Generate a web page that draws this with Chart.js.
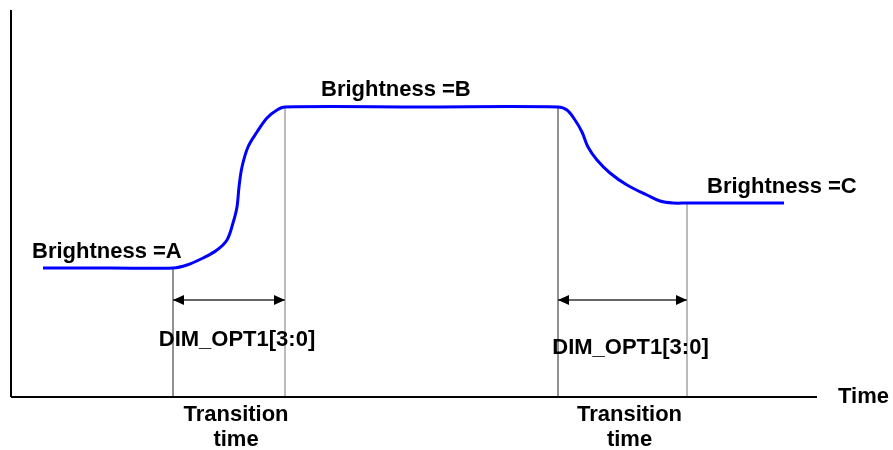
<!DOCTYPE html>
<html>
<head>
<meta charset="utf-8">
<script src="https://cdn.jsdelivr.net/npm/chart.js@4/dist/chart.umd.min.js"></script>
<style>
  body { margin: 0; background: #fff; }
  #wrap { width: 893px; height: 450px; }
</style>
</head>
<body>
<div id="wrap"><canvas id="chart" width="893" height="450"></canvas></div>
<script>
// brightness curve (time / brightness in arbitrary units, origin at axes corner)
const timeValues = [32, 100, 162, 176, 192, 206, 216, 222, 226, 228, 231, 237, 246, 256, 266, 274,
                    410, 547, 556, 564, 571, 577, 586, 599, 616, 636, 649, 662, 676, 725, 773];
const brightnessValues = [129, 129, 129, 132, 139, 147, 157, 174, 190, 210, 230, 250, 265, 279, 287, 290,
                          290, 290, 287, 277, 265, 250, 237, 224, 212, 202, 196, 194, 194, 194, 194];

// brightness levels and transition edges
const levelNames = ['Brightness =A', 'Brightness =B', 'Brightness =C'];
const levelValues = [129, 290, 194];
const transitionStart = [162, 547];
const transitionEnd = [274, 676];
const arrowLevel = 97;
const optionLabel = 'DIM_OPT1[3:0]';
const transitionLabel = ['Transition', 'time'];
const axisEnd = { time: 806, brightness: 387 };

const font = 'bold 22px "Liberation Sans", Arial, sans-serif';

function pts(xs, ys) {
    return xs.map((x, i) => ({ x: x, y: ys[i] }));
}

const datasets = [
    {
        label: 'brightness',
        data: pts(timeValues, brightnessValues),
        borderColor: '#0000ff',
        borderWidth: 3,
        tension: 0.35,
        pointRadius: 0
    },
    // axes
    { data: [{ x: 0, y: 0 }, { x: axisEnd.time, y: 0 }], borderColor: '#000', borderWidth: 2, pointRadius: 0 },
    { data: [{ x: 0, y: 0 }, { x: 0, y: axisEnd.brightness }], borderColor: '#000', borderWidth: 2, pointRadius: 0 }
];

// vertical marker lines at the transition edges
const edges = [
    [transitionStart[0], levelValues[0], '#222'],
    [transitionEnd[0], levelValues[1], '#777'],
    [transitionStart[1], levelValues[1], '#222'],
    [transitionEnd[1], levelValues[2], '#777']
];
edges.forEach(e => {
    datasets.push({ data: [{ x: e[0], y: 0 }, { x: e[0], y: e[1] }], borderColor: e[2], borderWidth: 1, pointRadius: 0 });
});

// arrow shafts
for (let i = 0; i < 2; i++) {
    datasets.push({
        label: 'arrow',
        data: [{ x: transitionStart[i], y: arrowLevel }, { x: transitionEnd[i], y: arrowLevel }],
        borderColor: '#666',
        borderWidth: 2,
        pointRadius: 0
    });
}

const annotate = {
    id: 'annotate',
    afterDatasetsDraw(chart) {
        const ctx = chart.ctx;
        const xs = chart.scales.x, ys = chart.scales.y;
        ctx.save();

        // arrow heads
        ctx.fillStyle = '#000';
        for (let i = 0; i < 2; i++) {
            const y = ys.getPixelForValue(arrowLevel);
            const a = xs.getPixelForValue(transitionStart[i]);
            const b = xs.getPixelForValue(transitionEnd[i]);
            ctx.beginPath();
            ctx.moveTo(a, y); ctx.lineTo(a + 11, y - 5); ctx.lineTo(a + 11, y + 5); ctx.closePath(); ctx.fill();
            ctx.beginPath();
            ctx.moveTo(b, y); ctx.lineTo(b - 11, y - 5); ctx.lineTo(b - 11, y + 5); ctx.closePath(); ctx.fill();
        }

        ctx.font = font;
        ctx.textBaseline = 'middle';
        ctx.textAlign = 'left';
        // level labels
        ctx.fillText(levelNames[0], xs.getPixelForValue(21), ys.getPixelForValue(levelValues[0]) - 16);
        ctx.fillText(levelNames[1], xs.getPixelForValue(310), ys.getPixelForValue(levelValues[1]) - 17);
        ctx.fillText(levelNames[2], xs.getPixelForValue(696), ys.getPixelForValue(levelValues[2]) - 16);
        ctx.fillText('Time', xs.getPixelForValue(827), ys.getPixelForValue(0));

        ctx.textAlign = 'center';
        const optY = [arrowLevel - 40, arrowLevel - 48];
        for (let i = 0; i < 2; i++) {
            const mid = xs.getPixelForValue((transitionStart[i] + transitionEnd[i]) / 2);
            ctx.fillText(optionLabel, mid + 8, ys.getPixelForValue(optY[i]));
            ctx.fillText(transitionLabel[0], mid + 7, ys.getPixelForValue(-18));
            ctx.fillText(transitionLabel[1], mid + 7, ys.getPixelForValue(-43));
        }
        ctx.restore();
    }
};

new Chart(document.getElementById('chart').getContext('2d'), {
    type: 'line',
    data: { datasets: datasets },
    options: {
        responsive: false,
        animation: false,
        layout: { padding: 0 },
        plugins: { legend: { display: false }, tooltip: { enabled: false } },
        scales: {
            x: { type: 'linear', min: -11, max: 882, display: false },
            y: { type: 'linear', min: -53, max: 397, display: false }
        }
    },
    plugins: [annotate]
});
</script>
</body>
</html>
